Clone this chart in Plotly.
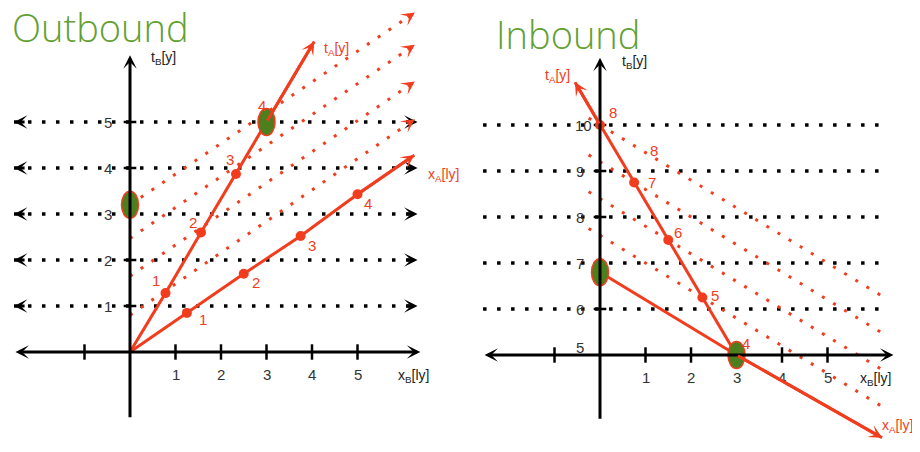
import plotly.graph_objects as go

# ---------------- data ----------------
RED = "#f23c1e"
GREEN_TXT = "#62a032"
GREEN_FILL = "#4e7f1f"

# Outbound panel
OUT_TITLE = "Outbound"
OUT_GRID_T = [1, 2, 3, 4, 5]
OUT_GRID_XSPAN = [-2.55, 6.32]
OUT_XAXIS_SPAN = [-2.55, 6.38]
OUT_TAXIS_SPAN = [-1.45, 6.45]
OUT_XTICKS = [-1, 1, 2, 3, 4, 5]
OUT_XTICK_LABELS = ["", "1", "2", "3", "4", "5"]
OUT_TTICKS = [1, 2, 3, 4, 5]
OUT_TTICK_LABELS = ["1", "2", "3", "4", "5"]
OUT_TA_X = [0.78, 1.56, 2.33, 3.0]
OUT_TA_T = [1.28, 2.6, 3.87, 5.0]
OUT_TA_LABELS = ["1", "2", "3", "4"]
OUT_TA_END = [4.05, 6.75]
OUT_XA_X = [1.25, 2.5, 3.75, 5.0]
OUT_XA_T = [0.85, 1.7, 2.52, 3.43]
OUT_XA_LABELS = ["1", "2", "3", "4"]
OUT_XA_END = [6.25, 4.28]
OUT_SIM_X = [0.0, 6.26]
OUT_SIM_T_START = [0.8, 1.65, 2.47, 3.2]
OUT_SIM_T_END = [5.06, 5.88, 6.68, 7.38]
OUT_GREEN_X = [0.0, 3.0]
OUT_GREEN_T = [3.2, 5.0]

# Inbound panel
IN_TITLE = "Inbound"
IN_GRID_T = [6, 7, 8, 9, 10]
IN_GRID_XSPAN = [-2.57, 6.25]
IN_XAXIS_SPAN = [-2.57, 6.45]
IN_TAXIS_SPAN = [3.58, 11.46]
IN_XTICKS = [-1, 1, 2, 3, 4, 5]
IN_XTICK_LABELS = ["", "1", "2", "3", "4", "5"]
IN_TTICKS = [5, 6, 7, 8, 9, 10]
IN_TTICK_LABELS = ["5", "6", "7", "8", "9", "10"]
IN_TA_X = [3.0, 2.25, 1.5, 0.75, 0.0]
IN_TA_T = [5.0, 6.25, 7.5, 8.75, 10.0]
IN_TA_LABELS = ["4", "5", "6", "7", "8"]
IN_TA_END = [-0.55, 10.93]
IN_XA_X = [0.0, 3.0, 6.2]
IN_XA_T = [6.8, 5.0, 3.2]
IN_SIM_X = [-0.25, 6.2]
IN_SIM_T_START = [10.15, 9.35, 8.55, 7.75]
IN_SIM_T_END = [6.28, 5.48, 4.68, 3.88]
IN_GREEN_X = [0.0, 3.0]
IN_GREEN_T = [6.8, 5.0]
IN_EXTRA_LABEL_X = [1.15]
IN_EXTRA_LABEL_T = [9.36]
IN_EXTRA_LABEL_TEXT = ["8"]

# ---------------- figure ----------------
PAGE_OFF = 8                     # default body margin of the page
W, H = 920 - PAGE_OFF, 452 - PAGE_OFF
SPLIT = 470 - PAGE_OFF
OUT_ORIGIN = (130 - PAGE_OFF, 352 - PAGE_OFF)
IN_ORIGIN = (600 - PAGE_OFF, 355 - PAGE_OFF)
SX, ST = 45.5, 46.0
IN_T0 = 5

fig = go.Figure()
annotations = []
shapes = []
FONT = "Liberation Sans, Arial, sans-serif"


def add_line(xs, ys, ax, color, width, dash="solid"):
    fig.add_trace(go.Scatter(x=xs, y=ys, mode="lines", xaxis=ax[0], yaxis=ax[1],
                             line=dict(color=color, width=width, dash=dash),
                             hoverinfo="skip"))


def add_arrow(ax, x0, y0, x1, y1, color, width, both=False, size=0.75):
    xr = "x" if ax[0] == "x" else "x2"
    yr = "y" if ax[1] == "y" else "y2"
    annotations.append(dict(x=x1, y=y1, ax=x0, ay=y0, xref=xr, yref=yr,
                            axref=xr, ayref=yr, showarrow=True, text="",
                            arrowhead=3, startarrowhead=3, arrowsize=size,
                            startarrowsize=size,
                            arrowwidth=width, arrowcolor=color, standoff=0,
                            startstandoff=0,
                            arrowside="end+start" if both else "end"))


def add_head(ax, xs, ys, color, width, at_start=False, size=0.75):
    if at_start:
        x1, y1, x0, y0 = xs[0], ys[0], xs[1], ys[1]
    else:
        x1, y1, x0, y0 = xs[-1], ys[-1], xs[-2], ys[-2]
    f = 0.03
    add_arrow(ax, x1 - f * (x1 - x0), y1 - f * (y1 - y0), x1, y1, color, width, size=size)


def add_text(ax, x, y, text, color, size, xshift=0, yshift=0, xanchor="center"):
    xr = "x" if ax[0] == "x" else "x2"
    yr = "y" if ax[1] == "y" else "y2"
    annotations.append(dict(x=x, y=y, xref=xr, yref=yr, text=text, showarrow=False,
                            xshift=xshift, yshift=yshift, xanchor=xanchor,
                            font=dict(color=color, size=size, family=FONT)))


def add_green(ax, xs, ys):
    xr = "x" if ax[0] == "x" else "x2"
    yr = "y" if ax[1] == "y" else "y2"
    for x, y in zip(xs, ys):
        shapes.append(dict(type="circle", xref=xr, yref=yr, xsizemode="pixel",
                           ysizemode="pixel", xanchor=x, yanchor=y,
                           x0=-8.5, x1=8.5, y0=-13.5, y1=13.5,
                           fillcolor=GREEN_FILL, line=dict(color=RED, width=1.5),
                           layer="above"))


BLACK_DOT = "3.5px,10.5px"
RED_DOT = "3px,10px"

# ---- Outbound ----
A = ("x", "y")
for t in OUT_GRID_T:
    xs = OUT_GRID_XSPAN
    ys = [t, t]
    add_line(xs, ys, A, "black", 3.5, BLACK_DOT)
    add_head(A, xs, ys, "black", 3)
    add_head(A, xs, ys, "black", 3, at_start=True)
for t0, t1 in zip(OUT_SIM_T_START, OUT_SIM_T_END):
    xs, ys = OUT_SIM_X, [t0, t1]
    add_line(xs, ys, A, RED, 3, RED_DOT)
    add_head(A, xs, ys, RED, 3)
add_arrow(A, OUT_XAXIS_SPAN[0], 0, OUT_XAXIS_SPAN[1], 0, "black", 3, both=True)
add_arrow(A, 0, OUT_TAXIS_SPAN[0], 0, OUT_TAXIS_SPAN[1], "black", 3)
fig.add_trace(go.Scatter(x=OUT_XTICKS, y=[0] * len(OUT_XTICKS), mode="markers",
                         xaxis="x", yaxis="y", hoverinfo="skip",
                         marker=dict(symbol="line-ns", size=11, line=dict(width=2.5, color="black"))))
fig.add_trace(go.Scatter(x=[0] * len(OUT_TTICKS), y=OUT_TTICKS, mode="markers",
                         xaxis="x", yaxis="y", hoverinfo="skip",
                         marker=dict(symbol="line-ew", size=9, line=dict(width=2.5, color="black"))))
for x, lab in zip(OUT_XTICKS, OUT_XTICK_LABELS):
    if lab:
        add_text(A, x, 0, lab, "#333", 15, yshift=-22)
for t, lab in zip(OUT_TTICKS, OUT_TTICK_LABELS):
    add_text(A, 0, t, lab, "#333", 15, xshift=-22)
add_line([0] + OUT_TA_X + [OUT_TA_END[0]], [0] + OUT_TA_T + [OUT_TA_END[1]], A, RED, 3)
add_arrow(A, OUT_TA_X[-1], OUT_TA_T[-1], OUT_TA_END[0], OUT_TA_END[1], RED, 3)
add_line([0] + OUT_XA_X + [OUT_XA_END[0]], [0] + OUT_XA_T + [OUT_XA_END[1]], A, RED, 3)
add_arrow(A, OUT_XA_X[-1], OUT_XA_T[-1], OUT_XA_END[0], OUT_XA_END[1], RED, 3)
fig.add_trace(go.Scatter(x=OUT_TA_X[:-1] + OUT_XA_X, y=OUT_TA_T[:-1] + OUT_XA_T, mode="markers",
                         xaxis="x", yaxis="y", hoverinfo="skip",
                         marker=dict(color=RED, size=10)))
ta_shift = [(-9, 13), (-8, 10), (-6, 14), (-5, 17)]
for x, t, lab, (dx, dy) in zip(OUT_TA_X, OUT_TA_T, OUT_TA_LABELS, ta_shift):
    add_text(A, x, t, lab, RED, 15, xshift=dx, yshift=dy)
xa_shift = [(16, -7), (12, -9), (11, -9), (10, -9)]
for x, t, lab, (dx, dy) in zip(OUT_XA_X, OUT_XA_T, OUT_XA_LABELS, xa_shift):
    add_text(A, x, t, lab, RED, 15, xshift=dx, yshift=dy)
add_green(A, OUT_GREEN_X, OUT_GREEN_T)
add_text(A, 0, OUT_TAXIS_SPAN[1], "t<sub>B</sub>[y]", "#222", 14, xshift=19, yshift=-3, xanchor="left")
add_text(A, OUT_XAXIS_SPAN[1], 0, "x<sub>B</sub>[ly]", "#222", 14, xshift=-24, yshift=-24, xanchor="left")
add_text(A, OUT_TA_END[0], OUT_TA_END[1], "t<sub>A</sub>[y]", RED, 14, xshift=8, yshift=-7, xanchor="left")
add_text(A, OUT_XA_END[0], OUT_XA_END[1], "x<sub>A</sub>[ly]", RED, 14, xshift=12, yshift=-20, xanchor="left")

# ---- Inbound ----
B = ("x2", "y2")
for t in IN_GRID_T:
    add_line(IN_GRID_XSPAN, [t, t], B, "black", 3.5, BLACK_DOT)
for t0, t1 in zip(IN_SIM_T_START, IN_SIM_T_END):
    add_line(IN_SIM_X, [t0, t1], B, RED, 3, RED_DOT)
add_arrow(B, IN_XAXIS_SPAN[0], IN_T0, IN_XAXIS_SPAN[1], IN_T0, "black", 3, both=True)
add_arrow(B, 0, IN_TAXIS_SPAN[0], 0, IN_TAXIS_SPAN[1], "black", 3)
fig.add_trace(go.Scatter(x=IN_XTICKS, y=[IN_T0] * len(IN_XTICKS), mode="markers",
                         xaxis="x2", yaxis="y2", hoverinfo="skip",
                         marker=dict(symbol="line-ns", size=11, line=dict(width=2.5, color="black"))))
fig.add_trace(go.Scatter(x=[0] * len(IN_TTICKS[1:]), y=IN_TTICKS[1:], mode="markers",
                         xaxis="x2", yaxis="y2", hoverinfo="skip",
                         marker=dict(symbol="line-ew", size=9, line=dict(width=2.5, color="black"))))
for x, lab in zip(IN_XTICKS, IN_XTICK_LABELS):
    if lab:
        add_text(B, x, IN_T0, lab, "#333", 15, yshift=-22)
for t, lab in zip(IN_TTICKS, IN_TTICK_LABELS):
    if t == IN_T0:
        add_text(B, 0, t, lab, "#333", 15, xshift=-20, yshift=8)
    else:
        add_text(B, 0, t, lab, "#333", 15, xshift=-20 if len(lab) == 1 else -17)
add_line(IN_TA_X + [IN_TA_END[0]], IN_TA_T + [IN_TA_END[1]], B, RED, 3)
add_arrow(B, IN_TA_X[-1], IN_TA_T[-1], IN_TA_END[0], IN_TA_END[1], RED, 3)
add_line(IN_XA_X, IN_XA_T, B, RED, 3)
add_arrow(B, IN_XA_X[-2], IN_XA_T[-2], IN_XA_X[-1], IN_XA_T[-1], RED, 3)
fig.add_trace(go.Scatter(x=IN_TA_X[1:], y=IN_TA_T[1:], mode="markers",
                         xaxis="x2", yaxis="y2", hoverinfo="skip",
                         marker=dict(color=RED, size=10)))
in_shift = [(9, 12), (13, 2), (10, 8), (18, 0), (13, 13)]
for x, t, lab, (dx, dy) in zip(IN_TA_X, IN_TA_T, IN_TA_LABELS, in_shift):
    add_text(B, x, t, lab, RED, 15, xshift=dx, yshift=dy)
for x, t, lab in zip(IN_EXTRA_LABEL_X, IN_EXTRA_LABEL_T, IN_EXTRA_LABEL_TEXT):
    add_text(B, x, t, lab, RED, 15, xshift=2, yshift=4)
add_green(B, IN_GREEN_X, IN_GREEN_T)
add_text(B, 0, IN_TAXIS_SPAN[1], "t<sub>B</sub>[y]", "#222", 14, xshift=20, yshift=-4, xanchor="left")
add_text(B, IN_XAXIS_SPAN[1], IN_T0, "x<sub>B</sub>[ly]", "#222", 14, xshift=-35, yshift=-24, xanchor="left")
add_text(B, IN_TA_END[0], IN_TA_END[1], "t<sub>A</sub>[y]", RED, 14, xshift=-32, yshift=6, xanchor="left")
add_text(B, IN_XA_X[-1], IN_XA_T[-1], "x<sub>A</sub>[ly]", RED, 14, xshift=-2, yshift=12, xanchor="left")

# titles
TITLE_FONT = dict(size=38, color=GREEN_TXT, family="Open Sans, Liberation Sans, sans-serif", weight=300)
annotations.append(dict(x=(10 - PAGE_OFF) / W, y=1 - (27 - PAGE_OFF) / H, xref="paper", yref="paper",
                        xanchor="left", yanchor="middle", showarrow=False, text=OUT_TITLE,
                        font=TITLE_FONT))
annotations.append(dict(x=(494 - PAGE_OFF) / W, y=1 - (34 - PAGE_OFF) / H, xref="paper", yref="paper",
                        xanchor="left", yanchor="middle", showarrow=False, text=IN_TITLE,
                        font=TITLE_FONT))

out_xr = [(0 - OUT_ORIGIN[0]) / SX, (SPLIT - OUT_ORIGIN[0]) / SX]
out_yr = [(OUT_ORIGIN[1] - H) / ST, OUT_ORIGIN[1] / ST]
in_xr = [(SPLIT - IN_ORIGIN[0]) / SX, (W - IN_ORIGIN[0]) / SX]
in_yr = [IN_T0 + (IN_ORIGIN[1] - H) / ST, IN_T0 + IN_ORIGIN[1] / ST]
ax_common = dict(visible=False, fixedrange=True)
fig.update_layout(
    width=W, height=H, margin=dict(l=0, r=0, t=0, b=0),
    paper_bgcolor="white", plot_bgcolor="white", showlegend=False,
    xaxis=dict(domain=[0, SPLIT / W], range=out_xr, anchor="y", **ax_common),
    yaxis=dict(domain=[0, 1], range=out_yr, anchor="x", **ax_common),
    xaxis2=dict(domain=[SPLIT / W, 1], range=in_xr, anchor="y2", **ax_common),
    yaxis2=dict(domain=[0, 1], range=in_yr, anchor="x2", **ax_common),
    annotations=annotations, shapes=shapes,
)
fig.write_html("out.html")
